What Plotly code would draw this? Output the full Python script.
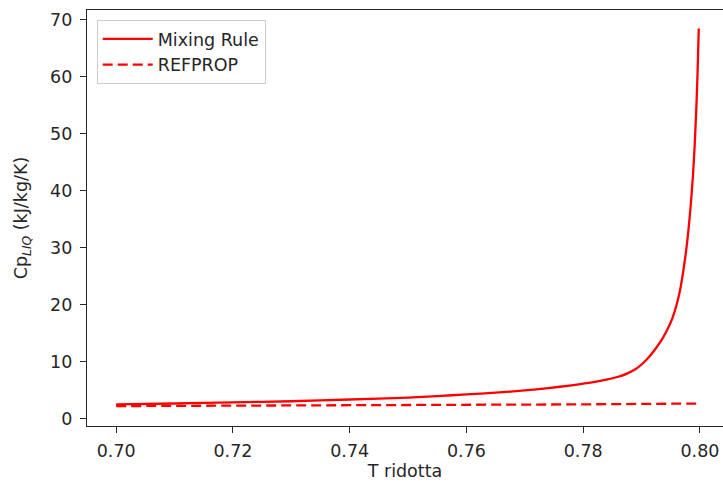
import plotly.graph_objects as go

# Reduced temperature and liquid heat capacity, kJ/kg/K
t_mix = [0.700, 0.710, 0.720, 0.730, 0.740, 0.750, 0.755, 0.760, 0.765, 0.770,
         0.774, 0.778, 0.7815, 0.784, 0.786, 0.7875, 0.789, 0.790, 0.791,
         0.7922, 0.7935, 0.7945, 0.7953, 0.7960, 0.7966, 0.7971, 0.7976,
         0.7980, 0.7984, 0.7988, 0.7991, 0.7994, 0.7996, 0.7998]
cp_mix = [2.5, 2.65, 2.85, 3.05, 3.35, 3.7, 3.95, 4.25, 4.55, 4.95,
          5.35, 5.85, 6.35, 6.85, 7.35, 7.9, 8.7, 9.5, 10.5,
          12.0, 13.9, 15.8, 17.7, 20.0, 22.6, 25.6, 29.2,
          32.8, 37.2, 42.6, 48.0, 55.0, 61.0, 68.5]

t_ref = [0.700, 0.720, 0.740, 0.760, 0.780, 0.7998]
cp_ref = [2.2, 2.25, 2.3, 2.4, 2.5, 2.65]

x_ticks = [0.70, 0.72, 0.74, 0.76, 0.78, 0.80]
x_tick_text = ["0.70", "0.72", "0.74", "0.76", "0.78", "0.80"]
y_ticks = [0, 10, 20, 30, 40, 50, 60, 70]

FONT = "DejaVu Sans"
SIZE = 17.5
RED = "#ff0000"
AXIS = "#262626"

fig = go.Figure()
fig.add_trace(go.Scatter(x=t_mix, y=cp_mix, mode="lines", name="Mixing Rule",
                         legendgroup="a",
                         line=dict(color=RED, width=2.3, shape="spline",
                                   smoothing=0.5)))
fig.add_trace(go.Scatter(x=t_ref, y=cp_ref, mode="lines", name="REFPROP",
                         legendgroup="b",
                         line=dict(color=RED, width=2.3, dash="10px,5px")))

fig.update_layout(
    width=723, height=484,
    margin=dict(l=87, r=0, t=10, b=58),
    paper_bgcolor="white", plot_bgcolor="white",
    font=dict(family=FONT, size=SIZE, color=AXIS),
    showlegend=True,
    legend=dict(x=0.0153, y=0.976, xanchor="left", yanchor="top",
                bgcolor="rgba(255,255,255,0.8)", bordercolor="#cccccc",
                borderwidth=1, itemwidth=50, tracegroupgap=0,
                font=dict(family=FONT, size=SIZE, color=AXIS)),
    xaxis=dict(range=[0.695, 0.80395], tickvals=x_ticks, ticktext=x_tick_text,
               showgrid=False, zeroline=False, showline=True, mirror=True,
               linecolor=AXIS, linewidth=1.3, ticks="outside", ticklen=6,
               tickwidth=1.3, tickcolor=AXIS, ticklabelstandoff=3,
               title=dict(text="T ridotta", standoff=4,
                          font=dict(family=FONT, size=SIZE, color=AXIS))),
    yaxis=dict(range=[-1.3, 71.75], tickvals=y_ticks,
               showgrid=False, zeroline=False, showline=True, mirror=False,
               linecolor=AXIS, linewidth=1.3, ticks="outside", ticklen=6,
               tickwidth=1.3, tickcolor=AXIS, ticklabelstandoff=4,
               title=dict(text="Cp<sub><i>LIQ</i></sub> (kJ/kg/K)", standoff=17,
                          font=dict(family=FONT, size=SIZE, color=AXIS))),
)

fig.write_html("out.html")
